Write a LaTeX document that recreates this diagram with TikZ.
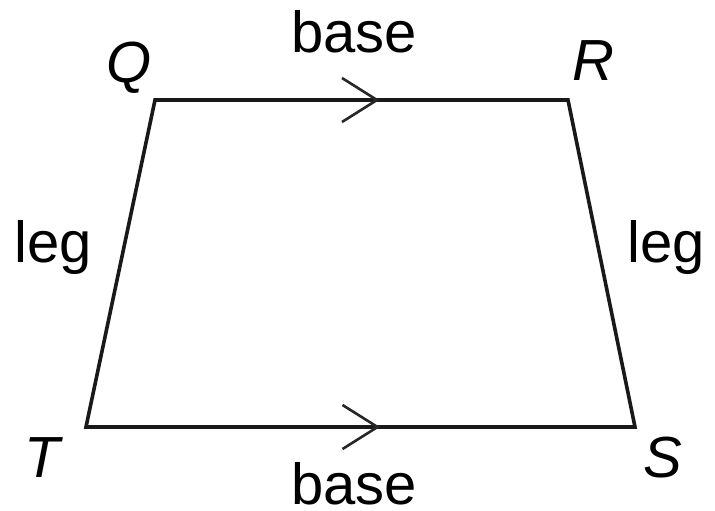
\documentclass[tikz,border=0pt]{standalone}
\usepackage{fontspec}
\setmainfont{Liberation Sans}
\usetikzlibrary{calc}
\begin{document}
\begin{tikzpicture}[x=1pt,y=-1pt,
  side/.style={line width=3.6pt,line join=miter,black!90},
  chev/.style={line width=2.6pt,black!85},
  lbl/.style={inner sep=0pt,anchor=base west,font=\fontsize{58}{62}\selectfont},
  vlbl/.style={lbl,font=\fontsize{58}{62}\selectfont\itshape}]
\useasboundingbox (0,0) rectangle (715,511);
\coordinate (Q) at (155,100);
\coordinate (R) at (568,100);
\coordinate (S) at (635,427);
\coordinate (T) at (86,427);
\draw[side] (Q) -- (R) -- (S) -- (T) -- cycle;
\path (Q) -- (R) coordinate[pos=0.5375] (m1);
\path (T) -- (S) coordinate[pos=0.531] (m2);
\draw[chev] ($(m1)+(-35,-22)$) coordinate (a1) -- (m1) -- ($(m1)+(-35,22)$) coordinate (b1);
\draw[chev] ($(m2)+(-35,-22)$) coordinate (a2) -- (m2) -- ($(m2)+(-35,22)$) coordinate (b2);
\node[vlbl] (lQ) at (106,82) {Q};
\node[vlbl] (lR) at (572,81) {R};
\node[vlbl] (lT) at (24,477) {T};
\node[vlbl] (lS) at (643,477) {S};
\node[lbl] (bt) at (291,53) {base};
\node[lbl,text depth=0pt] (bb) at (291,504) {base};
\node[lbl] (ll) at (14,262) {leg};
\node[lbl] (lr) at (627,262) {leg};
\end{tikzpicture}
\end{document}
